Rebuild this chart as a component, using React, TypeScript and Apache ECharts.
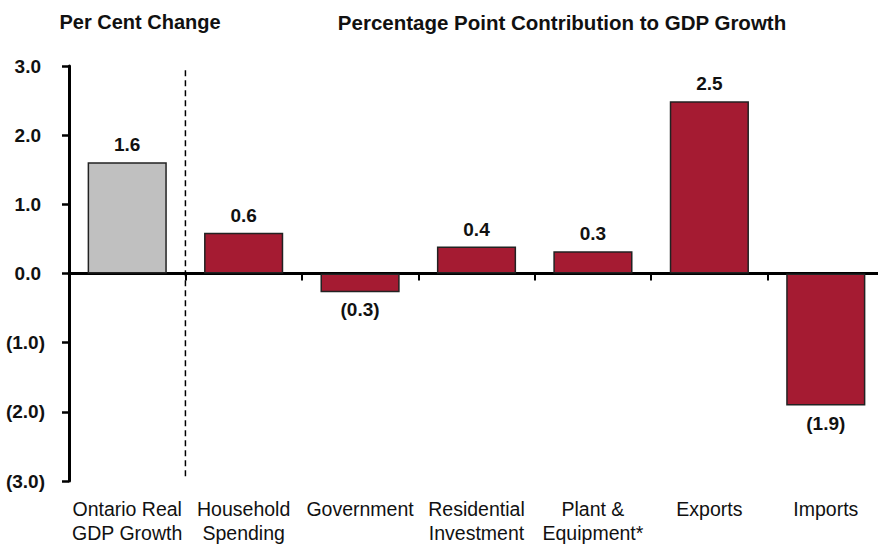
import React, { useEffect, useRef } from "react";
import * as echarts from "echarts";

const categories = [
  "Ontario Real\nGDP Growth",
  "Household\nSpending",
  "Government",
  "Residential\nInvestment",
  "Plant &\nEquipment*",
  "Exports",
  "Imports",
];
const values = [1.61, 0.59, -0.27, 0.39, 0.32, 2.49, -1.91];
const barColors = ["#C0C0C0", "#A51B32", "#A51B32", "#A51B32", "#A51B32", "#A51B32", "#A51B32"];
const leftTitle = "Per Cent Change";
const rightTitle = "Percentage Point Contribution to GDP Growth";
// dashed divider between the first category and the rest (in category units)
const dividerLine = [
  [1, 2.94],
  [1, -2.93],
];

const FONT = "'Liberation Sans', Arial, sans-serif";

function fmt(v: number): string {
  const s = Math.abs(v).toFixed(1);
  return v < 0 ? "(" + s + ")" : s;
}

export default function App() {
  const ref = useRef<HTMLDivElement>(null);
  useEffect(() => {
    if (!ref.current) return;
    const chart = echarts.init(ref.current, undefined, { renderer: "svg" });
    chart.setOption({
      animation: false,
      grid: { left: 69, top: 66, width: 815, height: 415, outerBoundsMode: "none" },
      graphic: [
        {
          type: "text",
          x: 140,
          y: 22,
          style: {
            text: leftTitle,
            fontFamily: FONT,
            fontSize: 20,
            fontWeight: "bold",
            fill: "#111",
            textAlign: "center",
            textVerticalAlign: "middle",
          },
        },
        {
          type: "text",
          x: 562,
          y: 22,
          style: {
            text: rightTitle,
            fontFamily: FONT,
            fontSize: 20.5,
            fontWeight: "bold",
            fill: "#111",
            textAlign: "center",
            textVerticalAlign: "middle",
          },
        },
      ],
      xAxis: [
        {
          type: "category",
          data: categories,
          axisLine: { show: true, onZero: true, lineStyle: { color: "#000", width: 3 } },
          axisTick: { show: true, interval: 0, length: 7, lineStyle: { color: "#000", width: 2 } },
          axisLabel: { show: false },
        },
        {
          type: "category",
          data: categories,
          position: "bottom",
          axisLine: { show: false, onZero: false },
          axisTick: { show: false },
          axisLabel: {
            show: true,
            interval: 0,
            margin: 16,
            fontFamily: FONT,
            fontSize: 19.5,
            lineHeight: 24,
            color: "#111",
          },
        },
        { type: "value", min: 0, max: 7, show: false },
      ],
      yAxis: {
        type: "value",
        min: -3,
        max: 3,
        interval: 1,
        axisLine: { show: true, lineStyle: { color: "#000", width: 3 } },
        axisTick: { show: true, length: 7, lineStyle: { color: "#000", width: 2.5 } },
        splitLine: { show: false },
        axisLabel: {
          margin: 24,
          fontFamily: FONT,
          fontSize: 19,
          fontWeight: "bold",
          color: "#111",
          formatter: (v: number) => (v < 0 ? "{n|" + fmt(v) + "}" : "{p|" + fmt(v) + "}"),
          rich: {
            p: { fontFamily: FONT, fontSize: 19, fontWeight: "bold", color: "#111", padding: [0, 4, 0, 0] },
            n: { fontFamily: FONT, fontSize: 19, fontWeight: "bold", color: "#111" },
          },
        },
      },
      series: [
        {
          type: "bar",
          xAxisIndex: 0,
          barWidth: "68%",
          data: values.map((v, i) => ({
            value: v,
            itemStyle: { color: barColors[i], borderColor: "#222", borderWidth: 1.5 },
            label: { position: v < 0 ? "bottom" : "top" },
          })),
          label: {
            show: true,
            distance: 8,
            fontFamily: FONT,
            fontSize: 19,
            fontWeight: "bold",
            color: "#111",
            formatter: (p: any) => fmt(p.value),
          },
        },
        {
          type: "line",
          xAxisIndex: 2,
          data: dividerLine,
          symbol: "none",
          silent: true,
          lineStyle: { color: "#000", width: 1.5, type: [6, 4] },
        },
      ],
    });
    return () => chart.dispose();
  }, []);
  return (
    <div
      ref={ref}
      style={{ position: "absolute", left: 0, top: 0, width: 878, height: 548, background: "#fff" }}
    />
  );
}
